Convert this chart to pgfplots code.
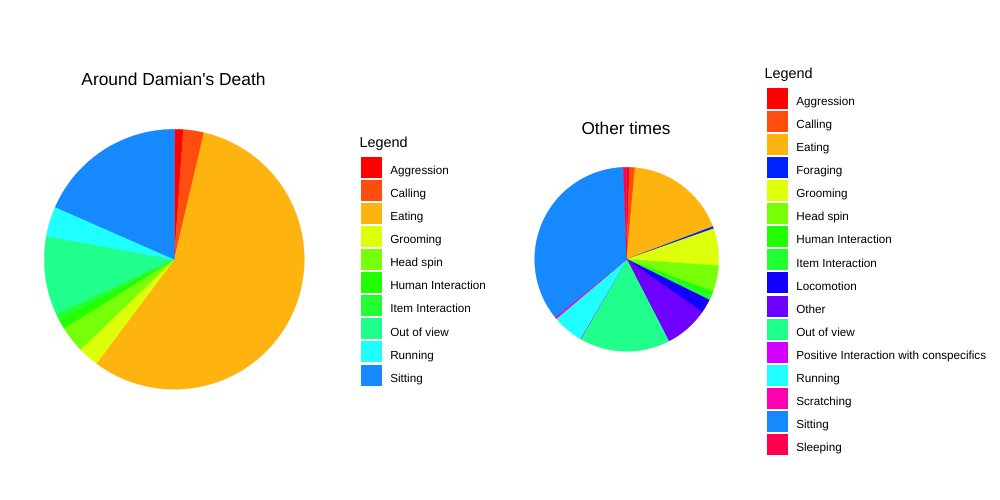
\documentclass[border=0pt]{standalone}
\usepackage{pgfplots}
\pgfplotsset{compat=1.18}
\usepackage{fontspec}
\setmainfont{Liberation Sans}
\newfontfamily\plainfont{Liberation Sans}
\definecolor{cAgg}{HTML}{FF0000}
\definecolor{cCal}{HTML}{FF4D0F}
\definecolor{cEat}{HTML}{FFB30F}
\definecolor{cFor}{HTML}{0022FF}
\definecolor{cGro}{HTML}{DDFF0A}
\definecolor{cHea}{HTML}{77FF0A}
\definecolor{cHum}{HTML}{22FF00}
\definecolor{cIte}{HTML}{22FF33}
\definecolor{cLoc}{HTML}{1100FF}
\definecolor{cOth}{HTML}{6E00FF}
\definecolor{cOut}{HTML}{20FF8C}
\definecolor{cPos}{HTML}{D400FF}
\definecolor{cRun}{HTML}{20FFFF}
\definecolor{cScr}{HTML}{FF00B0}
\definecolor{cSit}{HTML}{1689FF}
\definecolor{cSle}{HTML}{FF0050}
\pgfplotsset{
  pie/.style={
    scale only axis, hide axis,
    xmin=-1, xmax=1, ymin=-1, ymax=1,
    anchor=center,
    samples=60,
    legend image code/.code={\fill[##1] (0bp,-6bp) rectangle (20bp,14bp);},
    legend style={draw=none, fill=none, inner sep=0pt, outer sep=0pt,
      anchor=north west, row sep=2.8bp, column sep=9bp,
      nodes={inner sep=0pt, outer sep=0pt},
      cells={anchor=west},
      font=\fontsize{11.7bp}{14bp}\selectfont},
  },
  w/.style={fill=#1, draw=#1, line width=0.3pt},
}
\begin{document}
\begin{tikzpicture}[x=1bp,y=1bp]
\useasboundingbox (0,0) rectangle (1000,500);
% ---- Around Damian's Death (clockwise angles from top, degrees) ----
\begin{axis}[pie, width=260bp, height=260bp, at={(174.3bp,240.7bp)},
  legend style={at={(1.218,0.8946)}}]
\addplot[w=cAgg, domain=0:4.0]      ({sin(x)},{cos(x)}) -- (axis cs:0,0) -- cycle; \addlegendentry{Aggression}
\addplot[w=cCal, domain=4.0:13.2]   ({sin(x)},{cos(x)}) -- (axis cs:0,0) -- cycle; \addlegendentry{Calling}
\addplot[w=cEat, domain=13.2:216.8] ({sin(x)},{cos(x)}) -- (axis cs:0,0) -- cycle; \addlegendentry{Eating}
\addplot[w=cGro, domain=216.8:226.1]({sin(x)},{cos(x)}) -- (axis cs:0,0) -- cycle; \addlegendentry{Grooming}
\addplot[w=cHea, domain=226.1:238.0]({sin(x)},{cos(x)}) -- (axis cs:0,0) -- cycle; \addlegendentry{Head spin}
\addplot[w=cHum, domain=238.0:242.4]({sin(x)},{cos(x)}) -- (axis cs:0,0) -- cycle; \addlegendentry{Human Interaction}
\addplot[w=cIte, domain=242.4:245.2]({sin(x)},{cos(x)}) -- (axis cs:0,0) -- cycle; \addlegendentry{Item Interaction}
\addplot[w=cOut, domain=245.2:280.3]({sin(x)},{cos(x)}) -- (axis cs:0,0) -- cycle; \addlegendentry{Out of view}
\addplot[w=cRun, domain=280.3:293.7]({sin(x)},{cos(x)}) -- (axis cs:0,0) -- cycle; \addlegendentry{Running}
\addplot[w=cSit, domain=293.7:360]  ({sin(x)},{cos(x)}) -- (axis cs:0,0) -- cycle; \addlegendentry{Sitting}
\end{axis}
% ---- Other times ----
\begin{axis}[pie, width=184bp, height=184bp, at={(626.7bp,240.7bp)},
  legend style={at={(1.2625,1.4326)}}]
\addplot[w=cAgg, domain=0:1.7]       ({sin(x)},{cos(x)}) -- (axis cs:0,0) -- cycle; \addlegendentry{Aggression}
\addplot[w=cCal, domain=1.7:5.2]     ({sin(x)},{cos(x)}) -- (axis cs:0,0) -- cycle; \addlegendentry{Calling}
\addplot[w=cEat, domain=5.2:69.2]    ({sin(x)},{cos(x)}) -- (axis cs:0,0) -- cycle; \addlegendentry{Eating}
\addplot[w=cFor, domain=69.2:70.6]   ({sin(x)},{cos(x)}) -- (axis cs:0,0) -- cycle; \addlegendentry{Foraging}
\addplot[w=cGro, domain=70.6:94.0]   ({sin(x)},{cos(x)}) -- (axis cs:0,0) -- cycle; \addlegendentry{Grooming}
\addplot[w=cHea, domain=94.0:110.5]  ({sin(x)},{cos(x)}) -- (axis cs:0,0) -- cycle; \addlegendentry{Head spin}
\addplot[w=cHum, domain=110.5:113.3] ({sin(x)},{cos(x)}) -- (axis cs:0,0) -- cycle; \addlegendentry{Human Interaction}
\addplot[w=cIte, domain=113.3:116.2] ({sin(x)},{cos(x)}) -- (axis cs:0,0) -- cycle; \addlegendentry{Item Interaction}
\addplot[w=cLoc, domain=116.2:125.0] ({sin(x)},{cos(x)}) -- (axis cs:0,0) -- cycle; \addlegendentry{Locomotion}
\addplot[w=cOth, domain=125.0:152.8] ({sin(x)},{cos(x)}) -- (axis cs:0,0) -- cycle; \addlegendentry{Other}
\addplot[w=cOut, domain=152.8:210.0] ({sin(x)},{cos(x)}) -- (axis cs:0,0) -- cycle; \addlegendentry{Out of view}
\addplot[w=cPos, domain=210.0:210.3] ({sin(x)},{cos(x)}) -- (axis cs:0,0) -- cycle; \addlegendentry{Positive Interaction with conspecifics}
\addplot[w=cRun, domain=210.3:229.9] ({sin(x)},{cos(x)}) -- (axis cs:0,0) -- cycle; \addlegendentry{Running}
\addplot[w=cScr, domain=229.9:231.1] ({sin(x)},{cos(x)}) -- (axis cs:0,0) -- cycle; \addlegendentry{Scratching}
\addplot[w=cSit, domain=231.1:357.9] ({sin(x)},{cos(x)}) -- (axis cs:0,0) -- cycle; \addlegendentry{Sitting}
\addplot[w=cSle, domain=357.9:360]   ({sin(x)},{cos(x)}) -- (axis cs:0,0) -- cycle; \addlegendentry{Sleeping}
\end{axis}
% titles
\node[anchor=base, inner sep=0pt, font=\plainfont\fontsize{17.4bp}{20bp}\selectfont] at (173.5,414) {Around Damian's Death};
\node[anchor=base, inner sep=0pt, font=\fontsize{17.2bp}{20bp}\selectfont] at (626,365) {Other times};
\node[anchor=base west, inner sep=0pt, font=\fontsize{14.4bp}{17bp}\selectfont] at (359.5,352.7) {Legend};
\node[anchor=base west, inner sep=0pt, font=\fontsize{14.4bp}{17bp}\selectfont] at (764.3,421.7) {Legend};
\end{tikzpicture}
\end{document}
